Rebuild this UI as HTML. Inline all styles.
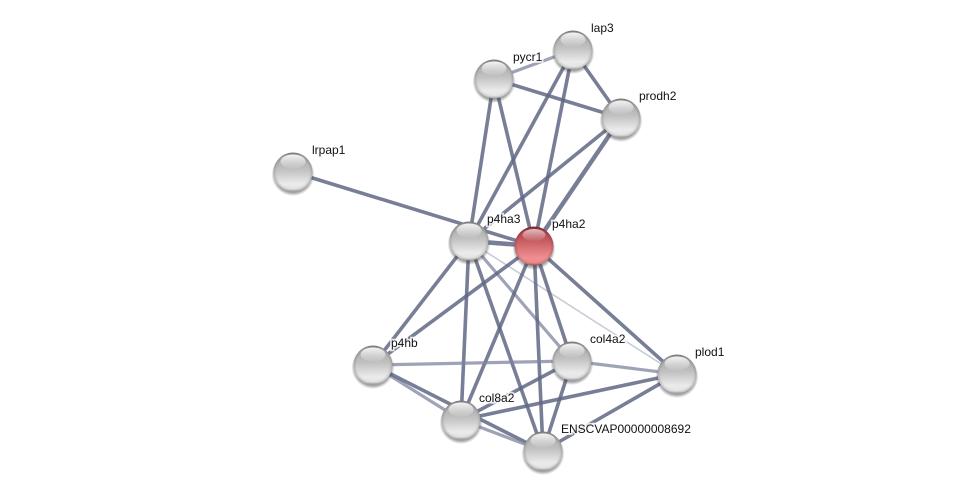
<!DOCTYPE html>
<html><head><meta charset="utf-8"><style>
html,body{margin:0;padding:0;background:#fff;width:975px;height:496px;overflow:hidden}
svg{display:block}
text{font-family:"Liberation Sans",sans-serif;font-size:12px;fill:#111;paint-order:stroke;stroke:#fff;stroke-width:3.5px;stroke-opacity:.8}
line{fill:none;stroke-linecap:butt}
.e{stroke:#5f6784;stroke-width:3.6;stroke-opacity:.85}
.m{stroke:#7d849d;stroke-width:3.2;stroke-opacity:.75}
.l{stroke:#c9cbd6;stroke-width:1.6}
</style></head><body>
<svg width="975" height="496" viewBox="0 0 975 496" xmlns="http://www.w3.org/2000/svg">
<defs>
<linearGradient id="g" x1="0" y1="0" x2="0" y2="1"><stop offset="0" stop-color="#8a8a8a"/><stop offset=".12" stop-color="#a8a8a8"/><stop offset=".45" stop-color="#c2c2c2"/><stop offset=".8" stop-color="#ebebeb"/><stop offset=".94" stop-color="#e4e4e4"/><stop offset="1" stop-color="#b4b4b4"/></linearGradient>
<linearGradient id="r" x1="0" y1="0" x2="0" y2="1"><stop offset="0" stop-color="#8c2a30"/><stop offset=".12" stop-color="#b0424a"/><stop offset=".45" stop-color="#cf666c"/><stop offset=".8" stop-color="#f08e92"/><stop offset=".94" stop-color="#ec8a8e"/><stop offset="1" stop-color="#b05056"/></linearGradient>
<radialGradient id="edge" cx="50%" cy="50%" r="50%"><stop offset=".84" stop-color="#000" stop-opacity="0"/><stop offset="1" stop-color="#000" stop-opacity=".16"/></radialGradient>
<linearGradient id="h" x1="0" y1="0" x2="0" y2="1"><stop offset="0" stop-color="#fff" stop-opacity=".9"/><stop offset="1" stop-color="#fff" stop-opacity=".05"/></linearGradient>
<radialGradient id="sh" cx="50%" cy="50%" r="50%"><stop offset=".84" stop-color="#444" stop-opacity=".5"/><stop offset="1" stop-color="#444" stop-opacity="0"/></radialGradient>
<g id="n"><circle cy="2.5" r="21.5" fill="url(#sh)"/><circle r="19.5" fill="url(#g)"/><circle r="19.5" fill="url(#edge)"/><ellipse cy="-10.5" rx="12.5" ry="7" fill="url(#h)"/></g>
<g id="nr"><circle cy="2.5" r="21.5" fill="url(#sh)"/><circle r="19.5" fill="url(#r)"/><circle r="19.5" fill="url(#edge)"/><ellipse cy="-11" rx="11.5" ry="6" fill="url(#h)" opacity=".75"/></g>
</defs>
<g>
<line class="m" x1="573" y1="50" x2="494" y2="79"/>
<line class="e" x1="573" y1="50" x2="621" y2="118"/>
<line class="e" x1="494" y1="79" x2="621" y2="118"/>
<line class="e" x1="494" y1="79" x2="469" y2="241"/>
<line class="e" x1="494" y1="79" x2="534" y2="246"/>
<line class="e" x1="573" y1="50" x2="469" y2="241"/>
<line class="e" x1="573" y1="50" x2="534" y2="246"/>
<line class="e" x1="621" y1="118" x2="469" y2="241"/>
<line class="e" x1="621" y1="118" x2="534" y2="246" style="stroke-width:4.4"/>
<line class="e" x1="293" y1="172" x2="534" y2="246"/>
<line class="e" x1="469" y1="241" x2="534" y2="246" style="stroke-width:4.6"/>
<line class="e" x1="469" y1="241" x2="373" y2="365"/>
<line class="e" x1="469" y1="241" x2="461" y2="420"/>
<line class="e" x1="469" y1="241" x2="543" y2="451"/>
<line class="m" x1="469" y1="241" x2="572" y2="361"/>
<line class="l" x1="469" y1="241" x2="677" y2="374"/>
<line class="e" x1="534" y1="246" x2="373" y2="365"/>
<line class="e" x1="534" y1="246" x2="461" y2="420"/>
<line class="e" x1="534" y1="246" x2="543" y2="451"/>
<line class="e" x1="534" y1="246" x2="572" y2="361"/>
<line class="e" x1="534" y1="246" x2="677" y2="374"/>
<line class="m" x1="373" y1="365" x2="572" y2="361"/>
<line class="m" x1="373" y1="365" x2="461" y2="420"/>
<line class="e" x1="373" y1="365" x2="543" y2="451"/>
<line class="e" x1="461" y1="420" x2="572" y2="361"/>
<line class="e" x1="461" y1="420" x2="677" y2="374"/>
<line class="m" x1="461" y1="420" x2="543" y2="451"/>
<line class="e" x1="543" y1="451" x2="572" y2="361"/>
<line class="e" x1="543" y1="451" x2="677" y2="374"/>
<line class="m" x1="572" y1="361" x2="677" y2="374"/>
</g>
<use href="#n" x="573" y="50"/>
<use href="#n" x="494" y="79"/>
<use href="#n" x="621" y="118"/>
<use href="#n" x="293" y="172"/>
<use href="#n" x="469" y="241"/>
<use href="#nr" x="534" y="246"/>
<use href="#n" x="373" y="365"/>
<use href="#n" x="572" y="361"/>
<use href="#n" x="677" y="374"/>
<use href="#n" x="461" y="420"/>
<use href="#n" x="543" y="451"/>
<text x="591" y="32">lap3</text>
<text x="513" y="61">pycr1</text>
<text x="639" y="100">prodh2</text>
<text x="312" y="154">lrpap1</text>
<text x="487" y="223">p4ha3</text>
<text x="552" y="228">p4ha2</text>
<text x="391" y="347">p4hb</text>
<text x="590" y="343">col4a2</text>
<text x="695" y="356">plod1</text>
<text x="479" y="402">col8a2</text>
<text x="561" y="433">ENSCVAP00000008692</text>
</svg>
</body></html>
